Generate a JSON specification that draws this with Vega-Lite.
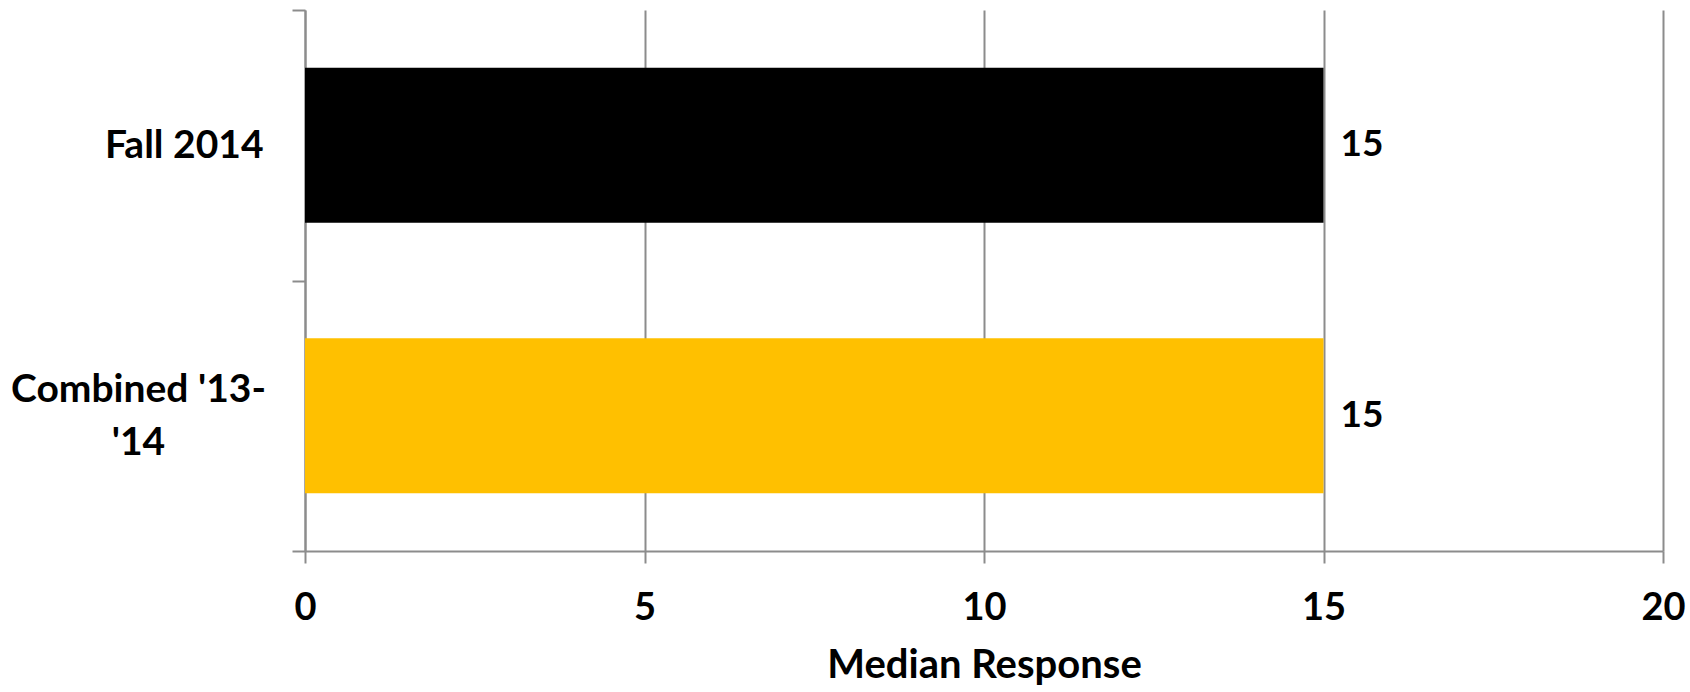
{
  "$schema": "https://vega.github.io/schema/vega-lite/v6.json",
  "autosize": "none",
  "width": 1358,
  "height": 541,
  "padding": {"left": 305, "top": 10, "right": 27, "bottom": 141},
  "background": "white",
  "config": {
    "view": {"stroke": null},
    "font": "Lato"
  },
  "data": {
    "values": [
      {"period": "Fall 2014", "median": 15},
      {"period": "Combined '13-'14", "median": 15}
    ]
  },
  "encoding": {
    "y": {
      "field": "period",
      "type": "nominal",
      "sort": null,
      "scale": {"paddingInner": 0, "paddingOuter": 0},
      "axis": {
        "title": null,
        "tickBand": "extent",
        "ticks": true,
        "tickSize": 13,
        "tickColor": "#8c8c8c",
        "tickWidth": 2,
        "domain": true,
        "domainColor": "#8c8c8c",
        "domainWidth": 2,
        "grid": false,
        "labelFont": "Lato",
        "labelFontSize": 39,
        "labelFontWeight": "bold",
        "labelColor": "#000000",
        "labelLineHeight": 53,
        "labelLimit": 400,
        "labelExpr": "datum.value == \"Combined '13-'14\" ? [\"Combined '13-\", \"'14\"] : datum.value",
        "labelAlign": {"condition": {"test": "datum.value == 'Fall 2014'", "value": "right"}, "value": "center"},
        "labelPadding": {"condition": {"test": "datum.value == 'Fall 2014'", "value": 29}, "value": 154},
        "labelOffset": {"condition": {"test": "datum.value == 'Fall 2014'", "value": 0}, "value": -26}
      }
    },
    "x": {
      "field": "median",
      "type": "quantitative",
      "scale": {"domain": [0, 20], "nice": false},
      "axis": {
        "title": "Median Response",
        "values": [0, 5, 10, 15, 20],
        "grid": true,
        "gridColor": "#8c8c8c",
        "gridWidth": 2,
        "ticks": true,
        "tickSize": 12,
        "tickColor": "#8c8c8c",
        "tickWidth": 2,
        "domain": true,
        "domainColor": "#8c8c8c",
        "domainWidth": 2,
        "labelFont": "Lato",
        "labelFontSize": 38,
        "labelFontWeight": "bold",
        "labelColor": "#000000",
        "labelPadding": 26,
        "labelFlush": false,
        "titleFont": "Lato",
        "titleFontSize": 40,
        "titleFontWeight": "bold",
        "titleColor": "#000000",
        "titlePadding": 18
      }
    }
  },
  "layer": [
    {
      "mark": {"type": "bar", "height": {"band": 0.573}},
      "encoding": {
        "color": {
          "field": "period",
          "type": "nominal",
          "scale": {"domain": ["Fall 2014", "Combined '13-'14"], "range": ["#000000", "#FFC000"]},
          "legend": null
        }
      }
    },
    {
      "mark": {"type": "text", "align": "left", "baseline": "middle", "dx": 17, "font": "Lato", "fontSize": 37, "fontWeight": "bold", "color": "#000000"},
      "encoding": {
        "text": {"field": "median", "type": "quantitative"}
      }
    }
  ]
}
